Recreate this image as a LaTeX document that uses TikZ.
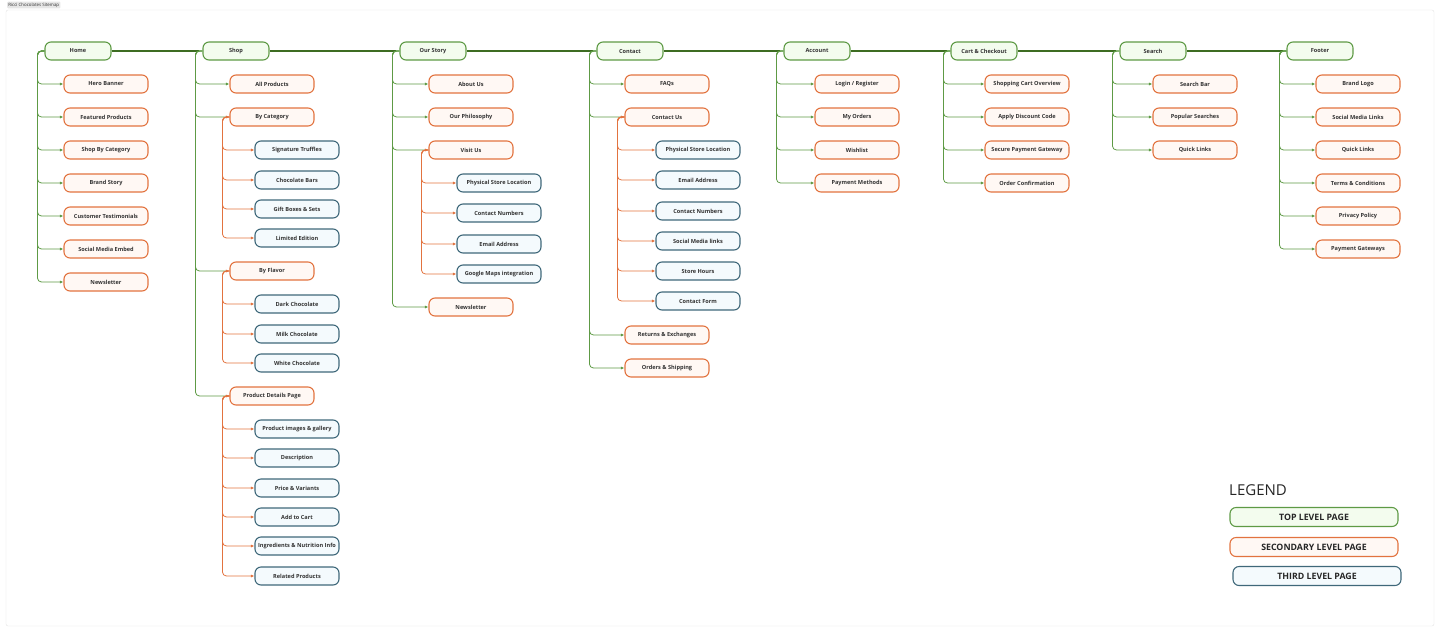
\documentclass[tikz,border=0pt]{standalone}
\usepackage{fontspec}
\setmainfont{Open Sans}
\usetikzlibrary{arrows.meta,positioning}

\definecolor{topgreen}{HTML}{5E9A45}
\definecolor{topfill}{HTML}{F3FCEE}
\definecolor{darkgreen}{HTML}{3D6C22}
\definecolor{secorange}{HTML}{E2733F}
\definecolor{secfill}{HTML}{FFF8F4}
\definecolor{thirdblue}{HTML}{3F687A}
\definecolor{thirdfill}{HTML}{F4FAFD}
\definecolor{textgray}{HTML}{333333}
\definecolor{framegray}{HTML}{E2E2E2}
\definecolor{tabgray}{HTML}{E6E6E6}

\tikzset{
  pagebox/.style={draw, rounded corners=6pt, line width=1.1pt, minimum height=18pt, inner sep=1pt,
    font=\fontsize{5.6}{6.5}\selectfont\bfseries, text=textgray},
  topbox/.style={pagebox, draw=topgreen, fill=topfill, minimum width=66pt},
  secbox/.style={pagebox, draw=secorange, fill=secfill, minimum width=84pt},
  thirdbox/.style={pagebox, draw=thirdblue, fill=thirdfill, minimum width=84pt},
  greenlink/.style={draw=topgreen, line width=0.8pt, rounded corners=4pt, -{Latex[length=3.5pt,width=3pt]}},
  parentlink/.style={greenlink, -{Latex[length=3.5pt,width=3pt,color=secorange]}},
  orangelink/.style={draw=secorange, line width=0.8pt, rounded corners=4pt, -{Latex[length=3.5pt,width=3pt]}},
  topline/.style={draw=darkgreen, line width=2.6pt, shorten >=3pt},
  legendbox/.style={minimum width=168pt, minimum height=19pt, font=\fontsize{8.8}{10}\selectfont\bfseries, text=black!85},
}

\begin{document}
\begin{tikzpicture}[x=1pt, y=-1pt]
    \useasboundingbox (0,0) rectangle (1440,635);
    % frame and title tab
    \draw[framegray, rounded corners=2pt] (6,10) rectangle (1434,626);
    \node[fill=tabgray, rounded corners=1pt, inner sep=1.2pt, anchor=west,
      font=\fontsize{4.4}{5}\selectfont, text=textgray] (title) at (7,5) {Ricci Chocolates Sitemap};

    % top level pages
    \node[topbox] (home) at (78,51) {Home};
    \node[topbox] (shop) at (236,51) {Shop};
    \node[topbox] (story) at (433,51) {Our Story};
    \node[topbox] (contact) at (630,51) {Contact};
    \node[topbox] (account) at (817,51) {Account};
    \node[topbox] (cart) at (984,51) {Cart \& Checkout};
    \node[topbox] (search) at (1153,51) {Search};
    \node[topbox] (footer) at (1320,51) {Footer};
    \draw[topline] (home.east) -- (shop.west);
    \draw[topline] (shop.east) -- (story.west);
    \draw[topline] (story.east) -- (contact.west);
    \draw[topline] (contact.east) -- (account.west);
    \draw[topline] (account.east) -- (cart.west);
    \draw[topline] (cart.east) -- (search.west);
    \draw[topline] (search.east) -- (footer.west);

    % Home
    \foreach \y/\lbl [count=\i] in {84/Hero Banner, 117/Featured Products, 150/Shop By Category,
      183/Brand Story, 216/Customer Testimonials, 249/Social Media Embed, 282/Newsletter} {
    \node[secbox] (home-\i) at (106,\y) {\lbl};
    \draw[greenlink] (home.west) -- ++(-7,0) |- (home-\i.west);
    }

    % Shop
    \node[secbox] (allprod) at (272,84) {All Products};
    \node[secbox] (bycat) at (272,117) {By Category};
    \node[secbox] (byflavor) at (272,271) {By Flavor};
    \node[secbox] (details) at (272,396) {Product Details Page};
    \draw[greenlink] (shop.west) -- ++(-7,0) |- (allprod.west);
    \foreach \n in {bycat, byflavor, details} {
    \draw[parentlink] (shop.west) -- ++(-7,0) |- (\n.west);
    }
    \foreach \y/\lbl [count=\i] in {150/Signature Truffles, 180/Chocolate Bars, 209/Gift Boxes \& Sets, 238/Limited Edition} {
    \node[thirdbox] (bycat-\i) at (297,\y) {\lbl};
    \draw[orangelink] (bycat.west) -- ++(-7,0) |- (bycat-\i.west);
    }
    \foreach \y/\lbl [count=\i] in {304/Dark Chocolate, 334/Milk Chocolate, 363/White Chocolate} {
    \node[thirdbox] (byflavor-\i) at (297,\y) {\lbl};
    \draw[orangelink] (byflavor.west) -- ++(-7,0) |- (byflavor-\i.west);
    }
    \foreach \y/\lbl [count=\i] in {429/Product images \& gallery, 458/Description, 488/Price \& Variants,
      517/Add to Cart, 546/Ingredients \& Nutrition Info, 576/Related Products} {
    \node[thirdbox] (details-\i) at (297,\y) {\lbl};
    \draw[orangelink] (details.west) -- ++(-7,0) |- (details-\i.west);
    }

    % Our Story
    \node[secbox] (about) at (471,84) {About Us};
    \node[secbox] (philosophy) at (471,117) {Our Philosophy};
    \node[secbox] (visit) at (471,150) {Visit Us};
    \node[secbox] (storynews) at (471,307) {Newsletter};
    \foreach \n in {about, philosophy, storynews} {
    \draw[greenlink] (story.west) -- ++(-7,0) |- (\n.west);
    }
    \draw[parentlink] (story.west) -- ++(-7,0) |- (visit.west);
    \foreach \y/\lbl [count=\i] in {183/Physical Store Location, 213/Contact Numbers, 244/Email Address, 274/Google Maps integration} {
    \node[thirdbox] (visit-\i) at (499,\y) {\lbl};
    \draw[orangelink] (visit.west) -- ++(-7,0) |- (visit-\i.west);
    }

    % Contact
    \node[secbox] (faqs) at (667,84) {FAQs};
    \node[secbox] (contactus) at (667,117) {Contact Us};
    \node[secbox] (returns) at (667,335) {Returns \& Exchanges};
    \node[secbox] (orders) at (667,368) {Orders \& Shipping};
    \foreach \n in {faqs, returns, orders} {
    \draw[greenlink] (contact.west) -- ++(-7,0) |- (\n.west);
    }
    \draw[parentlink] (contact.west) -- ++(-7,0) |- (contactus.west);
    \foreach \y/\lbl [count=\i] in {150/Physical Store Location, 180/Email Address, 211/Contact Numbers,
      241/Social Media links, 271/Store Hours, 301/Contact Form} {
    \node[thirdbox] (contactus-\i) at (698,\y) {\lbl};
    \draw[orangelink] (contactus.west) -- ++(-7,0) |- (contactus-\i.west);
    }

    % Account
    \foreach \y/\lbl [count=\i] in {84/{Login / Register}, 117/My Orders, 150/Wishlist, 183/Payment Methods} {
    \node[secbox] (account-\i) at (857,\y) {\lbl};
    \draw[greenlink] (account.west) -- ++(-7,0) |- (account-\i.west);
    }

    % Cart & Checkout
    \foreach \y/\lbl [count=\i] in {84/Shopping Cart Overview, 117/Apply Discount Code, 150/Secure Payment Gateway, 183/Order Confirmation} {
    \node[secbox] (cart-\i) at (1027,\y) {\lbl};
    \draw[greenlink] (cart.west) -- ++(-7,0) |- (cart-\i.west);
    }

    % Search
    \foreach \y/\lbl [count=\i] in {84/Search Bar, 117/Popular Searches, 150/Quick Links} {
    \node[secbox] (search-\i) at (1195,\y) {\lbl};
    \draw[greenlink] (search.west) -- ++(-7,0) |- (search-\i.west);
    }

    % Footer
    \foreach \y/\lbl [count=\i] in {84/Brand Logo, 117/Social Media Links, 150/Quick Links,
      183/Terms \& Conditions, 216/Privacy Policy, 249/Payment Gateways} {
    \node[secbox] (footer-\i) at (1358,\y) {\lbl};
    \draw[greenlink] (footer.west) -- ++(-7,0) |- (footer-\i.west);
    }

    % legend
    \node[anchor=west, inner sep=0pt, font=\fontsize{15}{18}\selectfont, text=black!85] (legend) at (1229,490) {LEGEND};
    \node[topbox, legendbox] (lgtop) at (1314,517) {TOP LEVEL PAGE};
    \node[secbox, legendbox] (lgsec) at (1314,547) {SECONDARY LEVEL PAGE};
    \node[thirdbox, legendbox] (lgthird) at (1317,576) {THIRD LEVEL PAGE};
\end{tikzpicture}
\end{document}
